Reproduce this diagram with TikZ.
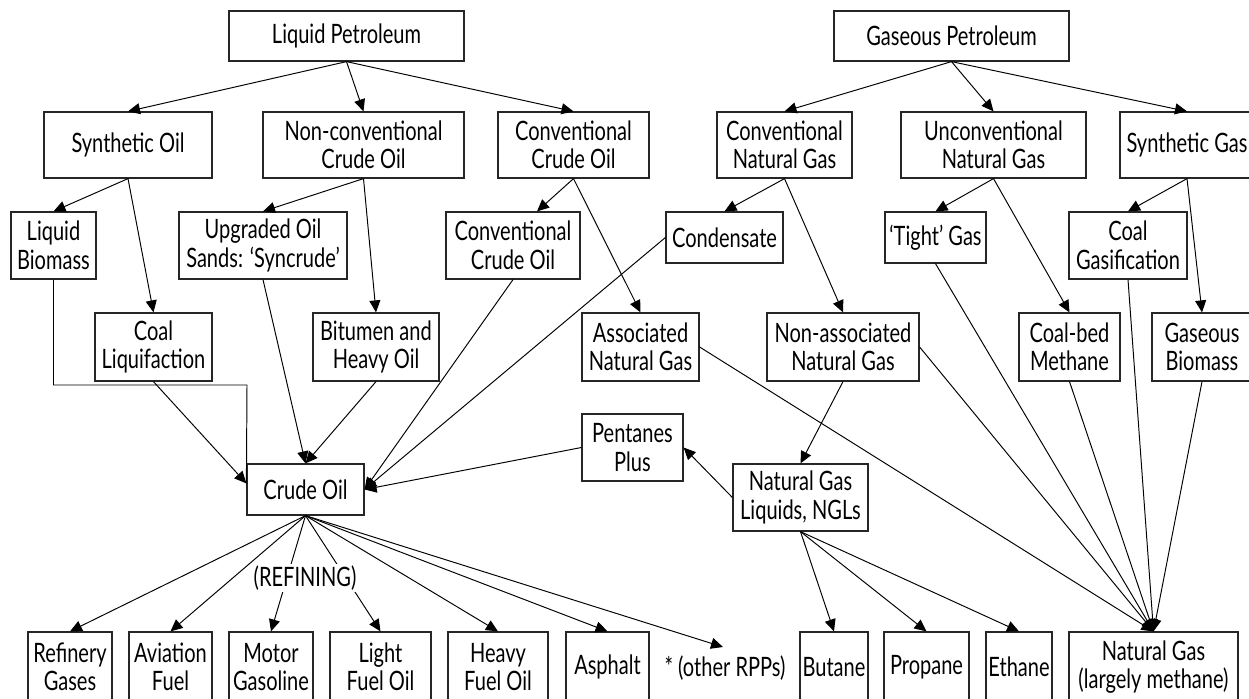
\documentclass[tikz,border=0pt]{standalone}
\usepackage{fontspec}
\setmainfont{Lato}[FakeStretch=0.75]
\usetikzlibrary{arrows.meta}
\tikzset{
  >={Triangle[length=2.4mm,width=2.2mm]},
  box/.style 2 args={draw=black!85,line width=0.7pt,inner sep=1pt,align=center,
    font=\fontsize{15.2}{16.2}\selectfont,minimum width=#1*0.2mm,minimum height=#2*0.2mm},
  link/.style={->,line width=0.55pt},
  tag/.style={font=\fontsize{15.2}{16.2}\selectfont,inner sep=1pt},
}
\begin{document}
\begin{tikzpicture}[x=0.2mm,y=-0.2mm]
  \useasboundingbox (0,0) rectangle (1249,698);
  \clip (0,0) rectangle (1249,698);
  % the two roots
  \node[box={235}{50}] (liqpet) at (346.5,36) {Liquid Petroleum};
  \node[box={235}{50}] (gaspet) at (951.5,36) {Gaseous Petroleum};
  \node[box={168}{66}] (synoil) at (128,145) {Synthetic Oil};
  \node[box={201}{66}] (nonconv) at (363.5,145) {Non-conventional\\Crude Oil};
  \node[box={151}{66}] (convoil) at (573.5,145) {Conventional\\Crude Oil};
  \node[box={135}{66}] (convgas) at (784.5,145) {Conventional\\Natural Gas};
  \node[box={185}{66}] (unconvgas) at (993.5,145) {Unconventional\\Natural Gas};
  \node[box={134}{66}] (syngas) at (1187,145) {Synthetic Gas};
  \foreach \c in {synoil,nonconv,convoil} \draw[link] (liqpet.south) -- (\c.north);
  \foreach \c in {convgas,unconvgas,syngas} \draw[link] (gaspet.south) -- (\c.north);
  % sources
  \node[box={85}{67}] (liqbio) at (53.5,245.5) {Liquid\\Biomass};
  \node[box={168}{67}] (syncrude) at (263,245.5) {Upgraded Oil\\Sands: ‘Syncrude’};
  \node[box={134}{67}] (convcrude) at (513,245.5) {Conventional\\Crude Oil};
  \node[box={117}{51}] (condensate) at (724.5,237.5) {Condensate};
  \node[box={101}{51}] (tight) at (935.5,237.5) {‘Tight’ Gas};
  \node[box={118}{67}] (coalgas) at (1128,245.5) {Coal\\Gasification};
  \node[box={117}{68}] (coalliq) at (153.5,347) {Coal\\Liquifaction};
  \node[box={126}{68}] (bitumen) at (376,347) {Bitumen and\\Heavy Oil};
  \node[box={117}{68}] (assoc) at (640.5,347) {Associated\\Natural Gas};
  \node[box={152}{68}] (nonassoc) at (843,347) {Non-associated\\Natural Gas};
  \node[box={101}{68}] (coalbed) at (1069.5,347) {Coal-bed\\Methane};
  \node[box={100}{68}] (gasbio) at (1202,347) {Gaseous\\Biomass};
  \draw[link] (synoil.south) -- (liqbio.north);
  \draw[link] (synoil.south) -- (coalliq.north);
  \draw[link] (nonconv.south) -- (syncrude.north);
  \draw[link] (nonconv.south) -- (bitumen.north);
  \draw[link] (convoil.south) -- ([xshift=4.8mm]convcrude.north);
  \draw[link] (convoil.south) -- (assoc.north);
  \draw[link] (convgas.south) -- (condensate.north);
  \draw[link] (convgas.south) -- (nonassoc.north);
  \draw[link] (unconvgas.south) -- (tight.north);
  \draw[link] (unconvgas.south) -- (coalbed.north);
  \draw[link] (syngas.south) -- (coalgas.north);
  \draw[link] (syngas.south) -- (gasbio.north);
  % crude oil and NGLs
  \node[box={117}{51}] (crude) at (305.5,489.5) {Crude Oil};
  \node[box={101}{67}] (pentanes) at (632.5,447.5) {Pentanes\\Plus};
  \node[box={135}{67}] (ngl) at (800.5,497.5) {Natural Gas\\Liquids, NGLs};
  \coordinate (elbow) at (247,385);
  \coordinate (crudein) at ([yshift=-4mm]crude.north west);
  \draw[line width=0.55pt] (liqbio.south) |- (elbow) -- (crudein);
  \draw[link] (coalliq.south) -- (crudein);
  \draw[link] (syncrude.south) -- (crude.north);
  \draw[link] (bitumen.south) -- (crude.north);
  \foreach \c in {convcrude.south,condensate.west,pentanes.west} \draw[link] (\c) -- (crude.east);
  \draw[link] (nonassoc.south) -- (ngl.north);
  \draw[link] (ngl.west) -- (pentanes.east);
  % products
  \foreach \n/\x/\w/\txt in {refgas/70/84/Refinery\\Gases, avfuel/170.5/83/Aviation\\Fuel,
    motor/271/84/Motor\\Gasoline, lightfo/380.5/101/Light\\Fuel Oil,
    heavyfo/498/100/Heavy\\Fuel Oil, asphalt/607.5/83/Asphalt}
  {
    \node[box={\w}{70}] (\n) at (\x,667) {\txt};
    \draw[link] (crude.south) -- (\n.north);
  }
  \node[tag] (rpp) at (725,668) {* (other RPPs)};
  \coordinate (rpptip) at (723,647);
  \draw[link] (crude.south) -- (rpptip);
  \node[tag,fill=white] (refining) at (305,578) {(REFINING)};
  \foreach \n/\x/\w/\txt in {butane/834/68/Butane, propane/926.5/85/Propane, ethane/1019/66/Ethane}
  {
    \node[box={\w}{70}] (\n) at (\x,667) {\txt};
    \draw[link] (ngl.south) -- (\n.north);
  }
  \node[box={169}{70}] (methane) at (1153.5,667) {Natural Gas\\(largely methane)};
  \foreach \c in {assoc.east,nonassoc.east,tight.south,coalbed.south,coalgas.south,gasbio.south}
    \draw[link] (\c) -- (methane.north);
\end{tikzpicture}
\end{document}
